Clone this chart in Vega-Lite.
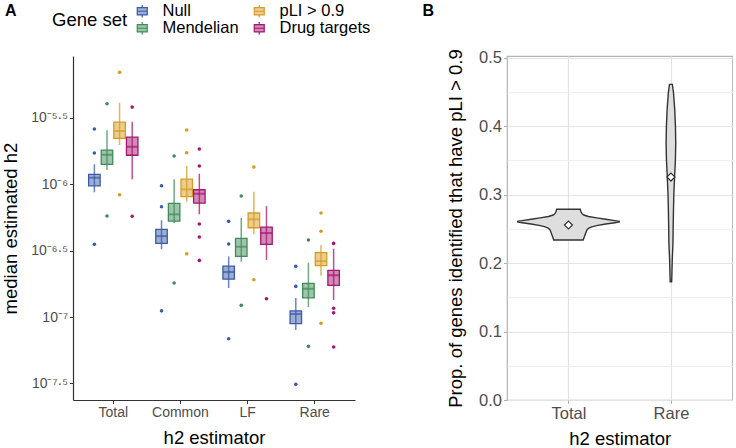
{
  "$schema": "https://vega.github.io/schema/vega-lite/v6.json",
  "padding": {"left": 1, "top": 2, "right": 0, "bottom": 0},
  "bounds": "flush",
  "spacing": 152,
  "config": {
    "font": "Liberation Sans",
    "view": {"stroke": null},
    "axis": {"labelColor": "#4d4d4d", "titleColor": "#000000", "titleFontWeight": "normal"},
    "title": {"fontWeight": "bold", "fontSize": 16, "color": "#000000"}
  },
  "datasets": {
    "boxes": [
      {"estimator": "Total", "geneset": "Null", "lower": 8.71e-7, "q1": 9.75e-7, "median": 1.122e-6, "q3": 1.189e-6, "upper": 1.416e-6},
      {"estimator": "Total", "geneset": "Mendelian", "lower": 1.282e-6, "q1": 1.416e-6, "median": 1.671e-6, "q3": 1.811e-6, "upper": 2.553e-6},
      {"estimator": "Total", "geneset": "pLI > 0.9", "lower": 1.977e-6, "q1": 2.223e-6, "median": 2.523e-6, "q3": 2.944e-6, "upper": 4.121e-6},
      {"estimator": "Total", "geneset": "Drug targets", "lower": 1.091e-6, "q1": 1.656e-6, "median": 1.919e-6, "q3": 2.270e-6, "upper": 2.965e-6},
      {"estimator": "Common", "geneset": "Null", "lower": 3.236e-7, "q1": 3.589e-7, "median": 4.074e-7, "q3": 4.581e-7, "upper": 5.358e-7},
      {"estimator": "Common", "geneset": "Mendelian", "lower": 5.082e-7, "q1": 5.284e-7, "median": 5.943e-7, "q3": 7.194e-7, "upper": 1.091e-6},
      {"estimator": "Common", "geneset": "pLI > 0.9", "lower": 7.396e-7, "q1": 8.072e-7, "median": 9.162e-7, "q3": 1.096e-6, "upper": 1.374e-6},
      {"estimator": "Common", "geneset": "Drug targets", "lower": 5.943e-7, "q1": 7.228e-7, "median": 8.492e-7, "q3": 9.099e-7, "upper": 1.202e-6},
      {"estimator": "LF", "geneset": "Null", "lower": 1.656e-7, "q1": 1.932e-7, "median": 2.183e-7, "q3": 2.421e-7, "upper": 2.864e-7},
      {"estimator": "LF", "geneset": "Mendelian", "lower": 2.612e-7, "q1": 2.864e-7, "median": 3.388e-7, "q3": 3.917e-7, "upper": 5.598e-7},
      {"estimator": "LF", "geneset": "pLI > 0.9", "lower": 4.198e-7, "q1": 4.710e-7, "median": 5.445e-7, "q3": 6.081e-7, "upper": 8.790e-7},
      {"estimator": "LF", "geneset": "Drug targets", "lower": 2.692e-7, "q1": 3.532e-7, "median": 4.295e-7, "q3": 4.764e-7, "upper": 6.855e-7},
      {"estimator": "Rare", "geneset": "Null", "lower": 7.980e-8, "q1": 8.913e-8, "median": 1.054e-7, "q3": 1.114e-7, "upper": 1.390e-7},
      {"estimator": "Rare", "geneset": "Mendelian", "lower": 1.189e-7, "q1": 1.396e-7, "median": 1.633e-7, "q3": 1.795e-7, "upper": 2.564e-7},
      {"estimator": "Rare", "geneset": "pLI > 0.9", "lower": 2.046e-7, "q1": 2.438e-7, "median": 2.642e-7, "q3": 3.055e-7, "upper": 3.491e-7},
      {"estimator": "Rare", "geneset": "Drug targets", "lower": 1.343e-7, "q1": 1.734e-7, "median": 2.061e-7, "q3": 2.249e-7, "upper": 3.273e-7}
    ],
    "outliers": [
      {"estimator": "Total", "geneset": "Null", "value": 2.612e-6},
      {"estimator": "Total", "geneset": "Null", "value": 1.722e-6},
      {"estimator": "Total", "geneset": "Null", "value": 3.532e-7},
      {"estimator": "Total", "geneset": "Mendelian", "value": 4.046e-6},
      {"estimator": "Total", "geneset": "Mendelian", "value": 5.768e-7},
      {"estimator": "Total", "geneset": "pLI > 0.9", "value": 6.982e-6},
      {"estimator": "Total", "geneset": "pLI > 0.9", "value": 8.356e-7},
      {"estimator": "Total", "geneset": "Drug targets", "value": 3.819e-6},
      {"estimator": "Total", "geneset": "Drug targets", "value": 5.741e-7},
      {"estimator": "Common", "geneset": "Null", "value": 9.75e-7},
      {"estimator": "Common", "geneset": "Null", "value": 6.776e-7},
      {"estimator": "Common", "geneset": "Null", "value": 1.114e-7},
      {"estimator": "Common", "geneset": "Mendelian", "value": 1.633e-6},
      {"estimator": "Common", "geneset": "Mendelian", "value": 1.803e-7},
      {"estimator": "Common", "geneset": "pLI > 0.9", "value": 2.564e-6},
      {"estimator": "Common", "geneset": "pLI > 0.9", "value": 1.730e-6},
      {"estimator": "Common", "geneset": "pLI > 0.9", "value": 2.999e-7},
      {"estimator": "Common", "geneset": "Drug targets", "value": 1.845e-6},
      {"estimator": "Common", "geneset": "Drug targets", "value": 1.374e-6},
      {"estimator": "Common", "geneset": "Drug targets", "value": 5.023e-7},
      {"estimator": "Common", "geneset": "Drug targets", "value": 4.009e-7},
      {"estimator": "Common", "geneset": "Drug targets", "value": 2.673e-7},
      {"estimator": "LF", "geneset": "Null", "value": 5.260e-7},
      {"estimator": "LF", "geneset": "Null", "value": 3.548e-7},
      {"estimator": "LF", "geneset": "Null", "value": 6.855e-8},
      {"estimator": "LF", "geneset": "Mendelian", "value": 8.166e-7},
      {"estimator": "LF", "geneset": "Mendelian", "value": 1.225e-7},
      {"estimator": "LF", "geneset": "pLI > 0.9", "value": 1.349e-6},
      {"estimator": "LF", "geneset": "pLI > 0.9", "value": 1.910e-7},
      {"estimator": "LF", "geneset": "Drug targets", "value": 1.374e-7},
      {"estimator": "Rare", "geneset": "Null", "value": 2.410e-7},
      {"estimator": "Rare", "geneset": "Null", "value": 1.702e-7},
      {"estimator": "Rare", "geneset": "Null", "value": 3.112e-8},
      {"estimator": "Rare", "geneset": "Mendelian", "value": 3.802e-7},
      {"estimator": "Rare", "geneset": "Mendelian", "value": 6.012e-8},
      {"estimator": "Rare", "geneset": "pLI > 0.9", "value": 6.081e-7},
      {"estimator": "Rare", "geneset": "pLI > 0.9", "value": 4.426e-7},
      {"estimator": "Rare", "geneset": "pLI > 0.9", "value": 8.974e-8},
      {"estimator": "Rare", "geneset": "Drug targets", "value": 3.589e-7},
      {"estimator": "Rare", "geneset": "Drug targets", "value": 1.164e-7},
      {"estimator": "Rare", "geneset": "Drug targets", "value": 1.076e-7},
      {"estimator": "Rare", "geneset": "Drug targets", "value": 5.943e-8}
    ],
    "violin": [
      {"estimator": "Total", "prop": 0.2786, "density": 0.115},
      {"estimator": "Total", "prop": 0.2770, "density": 0.118},
      {"estimator": "Total", "prop": 0.2745, "density": 0.124},
      {"estimator": "Total", "prop": 0.2720, "density": 0.134},
      {"estimator": "Total", "prop": 0.2702, "density": 0.150},
      {"estimator": "Total", "prop": 0.2680, "density": 0.195},
      {"estimator": "Total", "prop": 0.2660, "density": 0.276},
      {"estimator": "Total", "prop": 0.2640, "density": 0.364},
      {"estimator": "Total", "prop": 0.2620, "density": 0.452},
      {"estimator": "Total", "prop": 0.2610, "density": 0.496},
      {"estimator": "Total", "prop": 0.2600, "density": 0.496},
      {"estimator": "Total", "prop": 0.2590, "density": 0.452},
      {"estimator": "Total", "prop": 0.2570, "density": 0.364},
      {"estimator": "Total", "prop": 0.2550, "density": 0.286},
      {"estimator": "Total", "prop": 0.2530, "density": 0.227},
      {"estimator": "Total", "prop": 0.2510, "density": 0.198},
      {"estimator": "Total", "prop": 0.2493, "density": 0.183},
      {"estimator": "Total", "prop": 0.2460, "density": 0.174},
      {"estimator": "Total", "prop": 0.2420, "density": 0.164},
      {"estimator": "Total", "prop": 0.2380, "density": 0.154},
      {"estimator": "Total", "prop": 0.2350, "density": 0.146},
      {"estimator": "Total", "prop": 0.2337, "density": 0.144},
      {"estimator": "Rare", "prop": 0.4611, "density": 0.014},
      {"estimator": "Rare", "prop": 0.4489, "density": 0.025},
      {"estimator": "Rare", "prop": 0.4246, "density": 0.037},
      {"estimator": "Rare", "prop": 0.4002, "density": 0.044},
      {"estimator": "Rare", "prop": 0.3758, "density": 0.047},
      {"estimator": "Rare", "prop": 0.3516, "density": 0.044},
      {"estimator": "Rare", "prop": 0.3272, "density": 0.036},
      {"estimator": "Rare", "prop": 0.3028, "density": 0.029},
      {"estimator": "Rare", "prop": 0.2786, "density": 0.025},
      {"estimator": "Rare", "prop": 0.2542, "density": 0.022},
      {"estimator": "Rare", "prop": 0.2298, "density": 0.020},
      {"estimator": "Rare", "prop": 0.2055, "density": 0.013},
      {"estimator": "Rare", "prop": 0.1811, "density": 0.009},
      {"estimator": "Rare", "prop": 0.1728, "density": 0.007}
    ],
    "means": [
      {"estimator": "Total", "prop": 0.2556},
      {"estimator": "Rare", "prop": 0.3257}
    ]
  },
  "hconcat": [
    {
      "width": 282,
      "height": 344,
      "title": {"text": "A", "anchor": "start", "frame": "group", "dx": -68, "offset": 37},
      "encoding": {
        "x": {
          "field": "estimator", "type": "nominal", "sort": ["Total", "Common", "LF", "Rare"],
          "scale": {"paddingInner": 0.249, "paddingOuter": 0.2245},
          "title": "h2 estimator",
          "axis": {"labelAngle": 0, "labelFontSize": 14, "tickColor": "#333333", "tickSize": 3.5, "domainColor": "#333333", "domainWidth": 1.2, "labelPadding": 2, "titleFontSize": 18.5, "titlePadding": 9}
        },
        "xOffset": {"field": "geneset", "type": "nominal", "sort": ["Null", "Mendelian", "pLI > 0.9", "Drug targets"], "scale": {"paddingInner": 0, "paddingOuter": 0}},
        "color": {
          "field": "geneset", "type": "nominal",
          "scale": {"domain": ["Null", "Mendelian", "pLI > 0.9", "Drug targets"], "range": ["#3b5ba8", "#3e8c58", "#d69c22", "#a51670"]},
          "legend": {
            "orient": "none", "legendX": -21, "legendY": -53, "title": "Gene set", "titleOrient": "left", "titleAnchor": "middle", "titleBaseline": "middle",
            "columns": 2, "titleFontSize": 18.5, "titleFontWeight": "normal", "titleColor": "#000000", "titlePadding": 6,
            "labelFontSize": 16.5, "labelColor": "#000000", "labelOffset": 12, "columnPadding": 12, "rowPadding": -2, "labelLimit": 200,
            "symbolType": "M-1,-0.73H1V0.73H-1Z M-1,0H1 M0,-0.73V-1.27 M0,0.73V1.27", "symbolSize": 100,
            "encode": {"symbols": {"update": {"fill": {"scale": "color", "field": "value"}, "fillOpacity": {"value": 0.5}, "stroke": {"scale": "color", "field": "value"}, "strokeWidth": {"value": 1.2}, "opacity": {"value": 1}}}}
          }
        }
      },
      "layer": [
        {
          "data": {"name": "boxes"},
          "mark": {"type": "rule", "strokeWidth": 1.5, "opacity": 0.75},
          "encoding": {
            "y": {
              "field": "lower", "type": "quantitative", "title": "median estimated h2",
              "scale": {"type": "log", "domain": [2.371e-8, 9.268e-6], "nice": false},
              "axis": {
                "values": [3.1623e-6, 1e-6, 3.1623e-7, 1e-7, 3.1623e-8],
                "labelExpr": "datum.value > 2e-6 ? '10⁻⁵·⁵' : datum.value > 6e-7 ? '10⁻⁶' : datum.value > 2e-7 ? '10⁻⁶·⁵' : datum.value > 6e-8 ? '10⁻⁷' : '10⁻⁷·⁵'",
                "grid": false, "labelFontSize": 14, "tickColor": "#333333", "tickSize": 3.5, "domainColor": "#333333", "domainWidth": 1.2, "labelPadding": 2, "titleFontSize": 18.5, "titlePadding": 10
              }
            },
            "y2": {"field": "upper"}
          }
        },
        {
          "data": {"name": "boxes"},
          "mark": {"type": "bar", "width": 11.5, "fillOpacity": 0.5, "strokeWidth": 1.3},
          "encoding": {
            "y": {"field": "q1", "type": "quantitative", "title": "median estimated h2", "scale": {"type": "log", "domain": [2.371e-8, 9.268e-6], "nice": false}},
            "y2": {"field": "q3"},
            "stroke": {"field": "geneset", "type": "nominal", "legend": null, "scale": {"domain": ["Null", "Mendelian", "pLI > 0.9", "Drug targets"], "range": ["#3b5ba8", "#3e8c58", "#d69c22", "#a51670"]}}
          }
        },
        {
          "data": {"name": "boxes"},
          "mark": {"type": "tick", "thickness": 2, "size": 11.5},
          "encoding": {
            "y": {"field": "median", "type": "quantitative", "title": "median estimated h2", "scale": {"type": "log", "domain": [2.371e-8, 9.268e-6], "nice": false}}
          }
        },
        {
          "data": {"name": "outliers"},
          "mark": {"type": "circle", "size": 13, "opacity": 1},
          "encoding": {
            "y": {"field": "value", "type": "quantitative", "title": "median estimated h2", "scale": {"type": "log", "domain": [2.371e-8, 9.268e-6], "nice": false}}
          }
        }
      ]
    },
    {
      "width": 225.4,
      "height": 344,
      "title": {"text": "B", "anchor": "start", "frame": "group", "dx": -84.6, "offset": 30},
      "view": {"stroke": "#b3b3b3", "strokeWidth": 1.2},
      "layer": [
        {
          "data": {"name": "violin"},
          "transform": [
            {"calculate": "datum.estimator === 'Total' ? 1 : 2", "as": "pos"},
            {"calculate": "datum.pos - datum.density", "as": "xlo"},
            {"calculate": "datum.pos + datum.density", "as": "xhi"}
          ],
          "mark": {"type": "area", "orient": "horizontal", "fill": "#dedede", "stroke": "#333333", "strokeWidth": 1.4},
          "encoding": {
            "y": {
              "field": "prop", "type": "quantitative", "title": "Prop. of genes identified that have pLI > 0.9",
              "scale": {"domain": [0, 0.5025], "nice": false},
              "axis": {"values": [0, 0.1, 0.2, 0.3, 0.4, 0.5], "format": ".1f", "labelFontSize": 16.5, "tickColor": "#b3b3b3", "tickSize": 3.5, "domain": false, "gridColor": "#e3e3e3", "gridWidth": 1.2, "labelPadding": 2, "titleFontSize": 18.5, "titlePadding": 13}
            },
            "x": {
              "field": "xlo", "type": "quantitative", "title": "h2 estimator",
              "scale": {"domain": [0.4, 2.6], "nice": false, "zero": false},
              "axis": {"values": [1, 2], "labelExpr": "datum.value == 1 ? 'Total' : 'Rare'", "labelFontSize": 16.5, "tickColor": "#b3b3b3", "tickSize": 3.5, "domain": false, "gridColor": "#e3e3e3", "gridWidth": 1.2, "labelPadding": 2, "titleFontSize": 18.5, "titlePadding": 7}
            },
            "x2": {"field": "xhi"},
            "detail": {"field": "estimator"}
          }
        },
        {
          "data": {"name": "means"},
          "transform": [{"calculate": "datum.estimator === 'Total' ? 1 : 2", "as": "pos"}],
          "mark": {"type": "point", "shape": "diamond", "filled": true, "fill": "#ffffff", "stroke": "#333333", "strokeWidth": 1.2, "size": 64, "opacity": 1},
          "encoding": {
            "x": {"field": "pos", "type": "quantitative", "title": "h2 estimator", "scale": {"domain": [0.4, 2.6], "nice": false, "zero": false}},
            "y": {
              "field": "prop", "type": "quantitative",
              "scale": {"domain": [0, 0.5025], "nice": false},
              "axis": {"orient": "left", "values": [0.05, 0.15, 0.25, 0.35, 0.45], "labels": false, "ticks": false, "domain": false, "grid": true, "gridColor": "#efefef", "gridWidth": 1, "title": null}
            }
          }
        }
      ],
      "resolve": {"axis": {"y": "independent"}}
    }
  ]
}
